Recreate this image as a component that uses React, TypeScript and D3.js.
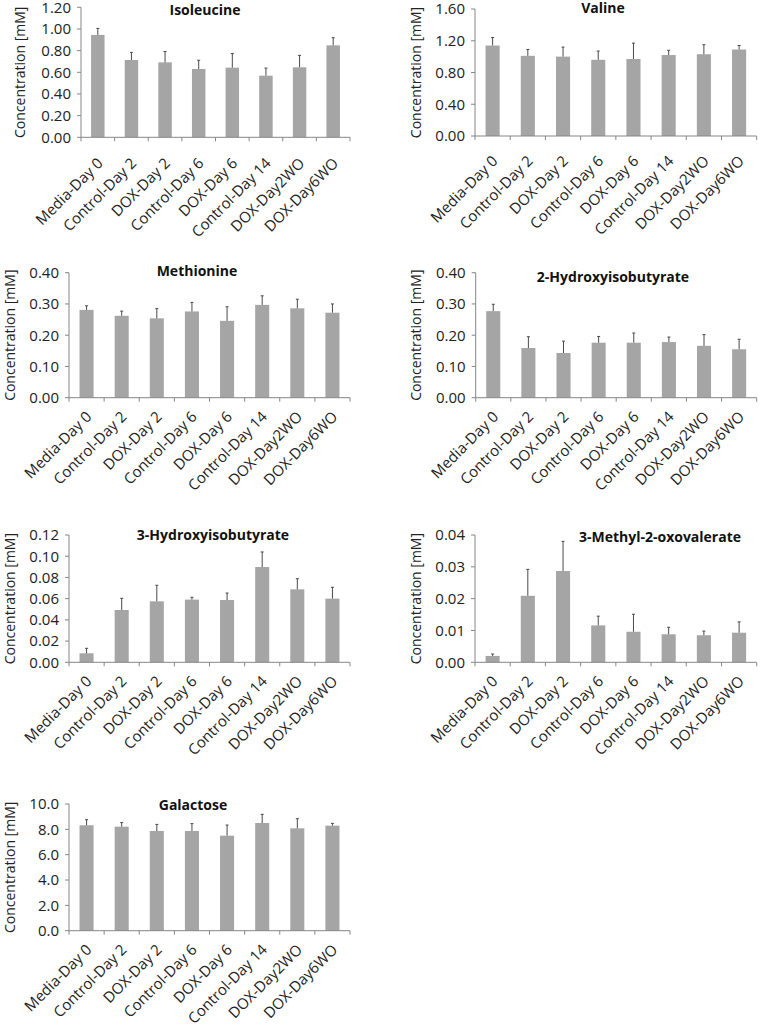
import React from "react";
import * as d3 from "d3";

const categories = [
  "Media-Day 0",
  "Control-Day 2",
  "DOX-Day 2",
  "Control-Day 6",
  "DOX-Day 6",
  "Control-Day 14",
  "DOX-Day2WO",
  "DOX-Day6WO",
];

const titles = [
  "Isoleucine",
  "Valine",
  "Methionine",
  "2-Hydroxyisobutyrate",
  "3-Hydroxyisobutyrate",
  "3-Methyl-2-oxovalerate",
  "Galactose",
];

const isoleucine = [0.945, 0.714, 0.692, 0.631, 0.643, 0.569, 0.646, 0.849];
const isoleucineErr = [0.06, 0.07, 0.1, 0.08, 0.13, 0.07, 0.11, 0.07];
const valine = [1.14, 1.01, 1.0, 0.96, 0.97, 1.02, 1.03, 1.09];
const valineErr = [0.1, 0.08, 0.12, 0.11, 0.2, 0.06, 0.12, 0.05];
const methionine = [0.281, 0.262, 0.254, 0.276, 0.246, 0.297, 0.286, 0.272];
const methionineErr = [0.013, 0.015, 0.031, 0.029, 0.045, 0.029, 0.029, 0.028];
const hib2 = [0.277, 0.159, 0.143, 0.176, 0.176, 0.178, 0.166, 0.155];
const hib2Err = [0.022, 0.036, 0.038, 0.02, 0.031, 0.016, 0.036, 0.032];
const hib3 = [0.0085, 0.0493, 0.0575, 0.0591, 0.0587, 0.0898, 0.0688, 0.06];
const hib3Err = [0.0047, 0.011, 0.0151, 0.0022, 0.0066, 0.0142, 0.01, 0.0107];
const m2ov = [0.002, 0.0209, 0.0287, 0.0116, 0.0096, 0.0088, 0.0085, 0.0093];
const m2ovErr = [0.0006, 0.0083, 0.0093, 0.0029, 0.0055, 0.0022, 0.0013, 0.0034];
const galactose = [8.32, 8.21, 7.87, 7.87, 7.5, 8.5, 8.08, 8.29];
const galactoseErr = [0.44, 0.32, 0.52, 0.58, 0.84, 0.68, 0.76, 0.18];

const yMaxes = [1.2, 1.6, 0.4, 0.4, 0.12, 0.04, 10];
const yTickSteps = [0.2, 0.4, 0.1, 0.1, 0.02, 0.01, 2];
const yTickFormats = [".2f", ".2f", ".2f", ".2f", ".2f", ".2f", ".1f"];
const seriesValues = [isoleucine, valine, methionine, hib2, hib3, m2ov, galactose];
const seriesErrors = [isoleucineErr, valineErr, methionineErr, hib2Err, hib3Err, m2ovErr, galactoseErr];

// layout (pixel boxes of each plot area)
const layout = [
  { left: 81, right: 350, top: 7.3, bottom: 137.3, titleX: 205, titleY: 15, yTitleX: 25, labelDy: 27 },
  { left: 475, right: 756.7, top: 9, bottom: 136, titleX: 603, titleY: 13, yTitleX: 421, labelDy: 26 },
  { left: 69, right: 350, top: 272.7, bottom: 397.7, titleX: 197, titleY: 276, yTitleX: 15, labelDy: 20 },
  { left: 475.7, right: 756.7, top: 272.7, bottom: 397.7, titleX: 613, titleY: 282, yTitleX: 421, labelDy: 20 },
  { left: 69, right: 350, top: 535, bottom: 662.3, titleX: 213, titleY: 540, yTitleX: 15, labelDy: 20 },
  { left: 475, right: 756.7, top: 535, bottom: 662.3, titleX: 660, titleY: 542, yTitleX: 421, labelDy: 20 },
  { left: 69, right: 350, top: 804, bottom: 930.7, titleX: 193, titleY: 810, yTitleX: 15, labelDy: 20 },
];

const FONT = "'Open Sans', 'DejaVu Sans', sans-serif";
const BAR = "#a5a5a5";
const AXIS = "#868686";
const ERR = "#4a4a4a";

function Panel({ i }: { i: number }) {
  const L = layout[i];
  const values = seriesValues[i];
  const errs = seriesErrors[i];
  const x = d3.scaleBand<string>().domain(categories).range([L.left, L.right]).padding(0);
  const y = d3.scaleLinear().domain([0, yMaxes[i]]).range([L.bottom, L.top]);
  const n = Math.round(yMaxes[i] / yTickSteps[i]);
  const ticks = d3.range(0, n + 1).map((k) => k * yTickSteps[i]);
  const fmt = d3.format(yTickFormats[i]);
  const bw = x.bandwidth() * 0.4;
  const boundaries = categories.map((c) => x(c)!).concat([L.right]);
  return (
    <g>
      {values.map((v, k) => {
        const cx = x(categories[k])! + x.bandwidth() / 2;
        const yTop = y(v + errs[k]);
        return (
          <g key={k}>
            <rect x={cx - bw / 2} y={y(v)} width={bw} height={y(0) - y(v)} fill={BAR} />
            <line x1={cx} x2={cx} y1={y(v)} y2={yTop} stroke={ERR} strokeWidth={1} />
            <line x1={cx - 1.5} x2={cx + 1.5} y1={yTop} y2={yTop} stroke={ERR} strokeWidth={1} />
          </g>
        );
      })}
      <line x1={L.left} x2={L.left} y1={L.top} y2={L.bottom} stroke={AXIS} strokeWidth={1} />
      <line x1={L.left} x2={L.right} y1={L.bottom} y2={L.bottom} stroke={AXIS} strokeWidth={1} />
      {ticks.map((t, k) => (
        <g key={k}>
          <line x1={L.left - 4} x2={L.left} y1={y(t)} y2={y(t)} stroke={AXIS} />
          <text
            x={L.left - 10}
            y={y(t)}
            dy="0.36em"
            textAnchor="end"
            fontSize={15}
            fontFamily={FONT}
            fill="#222"
          >
            {fmt(t)}
          </text>
        </g>
      ))}
      {boundaries.map((bx, k) => (
        <line key={k} x1={bx} x2={bx} y1={L.bottom} y2={L.bottom + 4} stroke={AXIS} />
      ))}
      {categories.map((c, k) => {
        const cx = x(c)! + x.bandwidth() / 2 + 6;
        const cy = L.bottom + L.labelDy;
        return (
          <text
            key={k}
            transform={`translate(${cx},${cy}) rotate(-45)`}
            textAnchor="end"
            fontSize={15}
            fontFamily={FONT}
            fill="#222"
          >
            {c}
          </text>
        );
      })}
      <text
        x={L.titleX}
        y={L.titleY}
        textAnchor="middle"
        fontSize={14}
        fontWeight="bold"
        fontFamily={FONT}
        fill="#111"
      >
        {titles[i]}
      </text>
      <text
        transform={`translate(${L.yTitleX},${(L.top + L.bottom) / 2}) rotate(-90)`}
        textAnchor="middle"
        fontSize={14}
        fontFamily={FONT}
        fill="#222"
      >
        Concentration [mM]
      </text>
    </g>
  );
}

export default function App() {
  return (
    <svg
      width={761}
      height={1025}
      style={{ position: "absolute", left: 0, top: 0, background: "#fff" }}
    >
      <rect width={761} height={1025} fill="#fff" />
      {titles.map((_, i) => (
        <Panel key={i} i={i} />
      ))}
    </svg>
  );
}
